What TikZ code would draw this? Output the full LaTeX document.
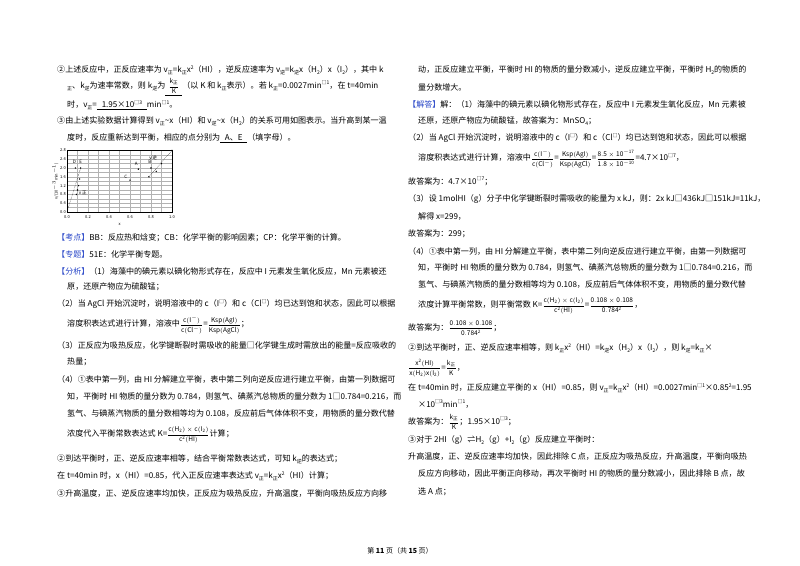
\documentclass[tikz,border=0pt]{standalone}
\usepackage{fontspec}
\setmainfont{Noto Sans CJK SC}
\newcommand\lo[1]{\raisebox{-0.4ex}{\fontsize{5}{6}\selectfont #1}}
\newcommand\hi[1]{\raisebox{0.8ex}{\fontsize{5}{6}\selectfont #1}}
\newcommand\ul[1]{\underline{\hspace{3pt}#1\hspace{3pt}}}
\newcommand\fr[2]{{\fontsize{6.5}{7}\selectfont$\displaystyle\frac{\mathrm{#1}}{\mathrm{#2}}$}}
\definecolor{tagblue}{RGB}{40,70,200}
\newcommand\tag[1]{{\color{tagblue}【#1】}}
\begin{document}
\begin{tikzpicture}[x=1pt,y=-1pt,
  ln/.style={anchor=west,inner sep=0pt,font=\fontsize{8.05}{10}\selectfont},
  gridl/.style={gray!60,line width=0.3pt}]
\useasboundingbox (0,0) rectangle (800,565);
\fill[white] (0,0) rectangle (800,565);
% ---- left column
\node[ln] (l1) at (57,70) {②上述反应中，正反应速率为 v\lo{正}=k\lo{正}x\hi{2}（HI），逆反应速率为 v\lo{逆}=k\lo{逆}x（H\lo{2}）x（I\lo{2}），其中 k};
\node[ln] (l2) at (67,87) {\lo{正}、k\lo{逆}为速率常数，则 k\lo{逆}为\ul{\fr{k_{正}}{K}}（以 K 和 k\lo{正}表示）。若 k\lo{正}=0.0027min\hi{□1}，在 t=40min};
\node[ln] (l3) at (67,105) {时，v\lo{正}=\ul{\ 1.95×10\hi{□3}\ }min\hi{□1}。};
\node[ln] (l4) at (57,121) {③由上述实验数据计算得到 v\lo{正}\textasciitilde x（HI）和 v\lo{逆}\textasciitilde x（H\lo{2}）的关系可用如图表示。当升高到某一温};
\node[ln] (l5) at (67,138) {度时，反应重新达到平衡，相应的点分别为\ul{\ A、E\ }（填字母）。};
% graph
\begin{scope}[shift={(67,212)},x=105pt,y=22pt]
 \foreach \i in {0,0.1,...,1.01} \draw[gridl] (\i,0) -- (\i,2.8);
 \foreach \j in {0,0.2,...,2.81} \draw[gridl] (0,\j) -- (1,\j);
 \draw[line width=0.6pt] (0,0) rectangle (1,2.8);
 \foreach \i in {0.0,0.2,0.4,0.6,0.8,1.0} \node[font=\fontsize{4}{4}\selectfont,below] at (\i,0) {\i};
 \foreach \j in {0.0,0.4,0.8,1.2,1.6,2.0,2.4,2.8} \node[font=\fontsize{4}{4}\selectfont,left,inner sep=1pt] at (0,\j) {\j};
 \node[font=\fontsize{4}{4}\selectfont] at (0.5,-0.55) {x};
 \node[font=\fontsize{4}{4}\selectfont,rotate=90] at (-0.11,1.4) {v/(10$^{-3}$min$^{-1}$)};
 \draw[densely dotted] (0,0) -- (0.13,2.0);
 \draw[densely dotted] (0.78,1.6) -- (1,2.8);
 \foreach \p/\q in {0.08/2.0,0.13/2.0,0.68/1.95,0.6/1.45,0.8/2.0,0.78/1.6,0.85/1.85,0.9/2.2,1/2.8,0.09/0.8,0.1/1.0,0.11/1.2,0.12/1.5}
   \fill (\p,\q) circle (0.8pt);
 \foreach \p/\q/\t in {0.07/2.3/D,0.13/2.3/E,0.66/2.2/A,0.56/1.6/C,0.79/2.3/B,0.82/2.45/v\,逆,0.15/0.85/v\,正}
   \node[font=\fontsize{4.5}{5}\selectfont,inner sep=0pt] at (\p,\q) {\t};
\end{scope}
\node[ln] (k1) at (57,238) {\tag{考点}BB：反应热和焓变；CB：化学平衡的影响因素；CP：化学平衡的计算。};
\node[ln] (k2) at (57,254) {\tag{专题}51E：化学平衡专题。};
\node[ln] (k3) at (57,271) {\tag{分析}（1）海藻中的碘元素以碘化物形式存在，反应中 I 元素发生氧化反应，Mn 元素被还};
\node[ln] (k4) at (67,287) {原，还原产物应为硫酸锰；};
\node[ln] (k5) at (57,304) {（2）当 AgCl 开始沉淀时，说明溶液中的 c（I\hi{□}）和 c（Cl\hi{□}）均已达到饱和状态，因此可以根据};
\node[ln] (k6) at (67,325) {溶度积表达式进行计算，溶液中\fr{c(I^-)}{c(Cl^-)}=\fr{Ksp(AgI)}{Ksp(AgCl)}；};
\node[ln] (k7) at (57,345) {（3）正反应为吸热反应，化学键断裂时需吸收的能量□化学键生成时需放出的能量=反应吸收的};
\node[ln] (k8) at (67,362) {热量；};
\node[ln] (k9) at (57,379) {（4）①表中第一列，由 HI 分解建立平衡，表中第二列向逆反应进行建立平衡，由第一列数据可};
\node[ln] (k10) at (67,397) {知，平衡时 HI 物质的量分数为 0.784，则氢气、碘蒸汽总物质的量分数为 1□0.784=0.216，而};
\node[ln] (k11) at (67,414) {氢气、与碘蒸汽物质的量分数相等均为 0.108，反应前后气体体积不变，用物质的量分数代替};
\node[ln] (k12) at (67,435) {浓度代入平衡常数表达式 K=\fr{c(H_2)\times c(I_2)}{c^2(HI)}计算；};
\node[ln] (k13) at (57,459) {②到达平衡时，正、逆反应速率相等，结合平衡常数表达式，可知 k\lo{逆}的表达式；};
\node[ln] (k14) at (57,476) {在 t=40min 时，x（HI）=0.85，代入正反应速率表达式 v\lo{正}=k\lo{正}x\hi{2}（HI）计算；};
\node[ln] (k15) at (57,494) {③升高温度，正、逆反应速率均加快，正反应为吸热反应，升高温度，平衡向吸热反应方向移};
% ---- right column
\node[ln] (r1) at (418,70) {动，正反应建立平衡，平衡时 HI 的物质的量分数减小，逆反应建立平衡，平衡时 H\lo{2}的物质的};
\node[ln] (r2) at (418,87) {量分数增大。};
\node[ln] (r3) at (408,104) {\tag{解答}解：（1）海藻中的碘元素以碘化物形式存在，反应中 I 元素发生氧化反应，Mn 元素被};
\node[ln] (r4) at (418,121) {还原，还原产物应为硫酸锰，故答案为：MnSO\lo{4}；};
\node[ln] (r5) at (408,138) {（2）当 AgCl 开始沉淀时，说明溶液中的 c（I\hi{□}）和 c（Cl\hi{□}）均已达到饱和状态，因此可以根据};
\node[ln] (r6) at (418,159) {溶度积表达式进行计算，溶液中\fr{c(I^-)}{c(Cl^-)}=\fr{Ksp(AgI)}{Ksp(AgCl)}=\fr{8.5\times10^{-17}}{1.8\times10^{-10}}=4.7×10\hi{□7}，};
\node[ln] (r7) at (408,181) {故答案为：4.7×10\hi{□7}；};
\node[ln] (r8) at (408,199) {（3）设 1molHI（g）分子中化学键断裂时需吸收的能量为 x kJ，则：2x kJ□436kJ□151kJ=11kJ，};
\node[ln] (r9) at (418,217) {解得 x=299，};
\node[ln] (r10) at (408,234) {故答案为：299；};
\node[ln] (r11) at (408,251) {（4）①表中第一列，由 HI 分解建立平衡，表中第二列向逆反应进行建立平衡，由第一列数据可};
\node[ln] (r12) at (418,268) {知，平衡时 HI 物质的量分数为 0.784，则氢气、碘蒸汽总物质的量分数为 1□0.784=0.216，而};
\node[ln] (r13) at (418,285) {氢气、与碘蒸汽物质的量分数相等均为 0.108，反应前后气体体积不变，用物质的量分数代替};
\node[ln] (r14) at (418,306) {浓度计算平衡常数，则平衡常数 K=\fr{c(H_2)\times c(I_2)}{c^2(HI)}=\fr{0.108\times0.108}{0.784^2}，};
\node[ln] (r15) at (408,328) {故答案为：\fr{0.108\times0.108}{0.784^2}；};
\node[ln] (r16) at (408,348) {②到达平衡时，正、逆反应速率相等，则 k\lo{正}x\hi{2}（HI）=k\lo{逆}x（H\lo{2}）x（I\lo{2}），则 k\lo{逆}=k\lo{正}×};
\node[ln] (r17) at (408,368) {\fr{x^2(HI)}{x(H_2)x(I_2)}=\fr{k_{正}}{K}，};
\node[ln] (r18) at (408,388) {在 t=40min 时，正反应建立平衡的 x（HI）=0.85，则 v\lo{正}=k\lo{正}x\hi{2}（HI）=0.0027min\hi{□1}×0.85\hi{2}=1.95};
\node[ln] (r19) at (418,404) {×10\hi{□3}min\hi{□1}，};
\node[ln] (r20) at (408,422) {故答案为：\fr{k_{正}}{K}；1.95×10\hi{□3}；};
\node[ln] (r21) at (408,440) {③对于 2HI（g）⇌H\lo{2}（g）+I\lo{2}（g）反应建立平衡时：};
\node[ln] (r22) at (408,457) {升高温度，正、逆反应速率均加快，因此排除 C 点，正反应为吸热反应，升高温度，平衡向吸热};
\node[ln] (r23) at (418,474) {反应方向移动，因此平衡正向移动，再次平衡时 HI 的物质的量分数减小，因此排除 B 点，故};
\node[ln] (r24) at (418,492) {选 A 点；};
\node[inner sep=0pt,font=\fontsize{7}{8}\selectfont] (ft) at (400,551) {第 \textbf{11} 页（共 \textbf{15} 页）};
\end{tikzpicture}
\end{document}
